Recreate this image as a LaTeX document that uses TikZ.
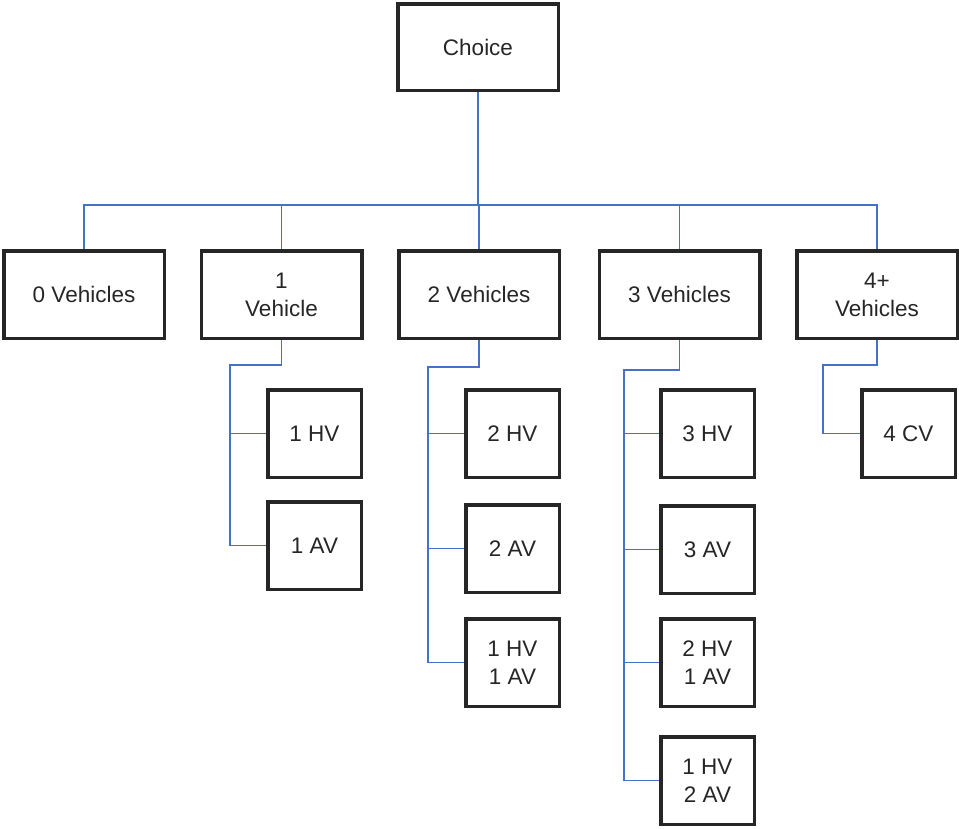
\documentclass[tikz,border=0pt]{standalone}
\usepackage{fontspec}
\setmainfont{Liberation Sans}
\definecolor{conncol}{HTML}{4472C4}
\definecolor{boxcol}{HTML}{262626}
\begin{document}
\begin{tikzpicture}[x=1pt,y=-1pt,
  boxbase/.style={draw=boxcol,line width=3.5pt,text=boxcol,align=center,inner sep=0pt,
    font=\fontsize{22.5}{28}\selectfont},
  bigbox/.style={boxbase,minimum width=160.5pt,minimum height=87.5pt},
  smallbox/.style={boxbase,minimum width=93.5pt,minimum height=87.5pt},
  conn/.style={draw=conncol,line width=1.4pt}]
\useasboundingbox (0,0) rectangle (959,828);
\node[bigbox,minimum height=86.5pt] (choice) at (478,47) {Choice};
\node[bigbox] (v0) at (84,294.5) {0 Vehicles};
\node[bigbox] (v1) at (281.5,294.5) {1\\Vehicle};
\node[bigbox] (v2) at (479,294.5) {2 Vehicles};
\node[bigbox] (v3) at (679.5,294.5) {3 Vehicles};
\node[bigbox] (v4) at (877,294.5) {4+\\Vehicles};
\node[smallbox] (a1) at (314.5,433.5) {1 HV};
\node[smallbox] (a2) at (314.5,545.5) {1 AV};
\node[smallbox] (b1) at (512.5,433.5) {2 HV};
\node[smallbox] (b2) at (512.5,548.5) {2 AV};
\node[smallbox] (b3) at (512.5,662.5) {1 HV\\1 AV};
\node[smallbox] (c1) at (707.5,433.5) {3 HV};
\node[smallbox] (c2) at (707.5,549.5) {3 AV};
\node[smallbox] (c3) at (707.5,662.5) {2 HV\\1 AV};
\node[smallbox] (c4) at (707.5,780.5) {1 HV\\2 AV};
\node[smallbox] (d1) at (908.5,433.5) {4 CV};
\coordinate (bus) at (479,205);
\draw[conn] (choice.south) -- (choice.south |- bus);
\draw[conn] (v0.north) |- (bus) -| (v4.north);
\draw[conn] (v1.north) -- (v1.north |- bus);
\draw[conn] (v2.north) -- (v2.north |- bus);
\draw[conn] (v3.north) -- (v3.north |- bus);
\coordinate (j1) at (230,365);
\draw[conn] (v1.south) |- (j1) |- (a1.west);
\draw[conn] (j1) |- (a2.west);
\coordinate (j2) at (428,367);
\draw[conn] (v2.south) |- (j2) |- (b1.west);
\draw[conn] (j2) |- (b2.west);
\draw[conn] (j2) |- (b3.west);
\coordinate (j3) at (624,370);
\draw[conn] (v3.south) |- (j3) |- (c1.west);
\draw[conn] (j3) |- (c2.west);
\draw[conn] (j3) |- (c3.west);
\draw[conn] (j3) |- (c4.west);
\coordinate (j4) at (823,365);
\draw[conn] (v4.south) |- (j4) |- (d1.west);
\end{tikzpicture}
\end{document}
